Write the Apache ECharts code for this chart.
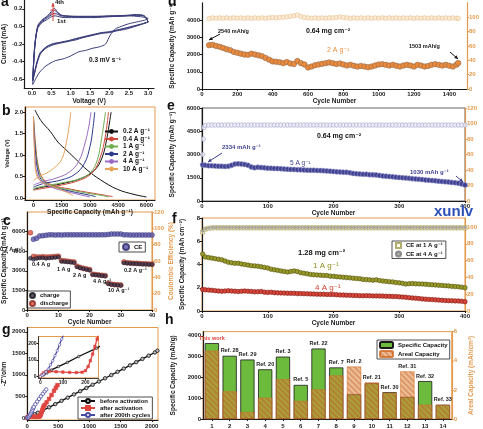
<!DOCTYPE html>
<html><head><meta charset="utf-8">
<script src="https://cdn.jsdelivr.net/npm/echarts@6/dist/echarts.min.js"></script>
<style>html,body{margin:0;padding:0;background:#fff}#c{width:483px;height:429px}</style>
</head><body><div id="c"></div>
<script>
// ---------- DATA ----------
// (a) CV cycles [V, mA]
const cv1 = [[3.0,0.09],[2.9,0.07],[2.7,0.05],[2.5,0.03],[2.3,0.0],[2.15,-0.03],[2.02,-0.1],[1.9,-0.2],[1.76,-0.23],[1.55,-0.25],[1.41,-0.27],[1.2,-0.29],[0.98,-0.34],[0.8,-0.37],[0.6,-0.39],[0.39,-0.44],[0.28,-0.48],[0.18,-0.53],[0.09,-0.6],[0.02,-0.66],[0.03,-0.5],[0.07,-0.22],[0.14,-0.03],[0.25,0.04],[0.4,0.08],[0.5,0.11],[0.6,0.12],[0.7,0.11],[0.85,0.1],[1.2,0.1],[1.6,0.1],[2.0,0.11],[2.5,0.12],[2.8,0.11],[2.95,0.1],[3.0,0.09]];
const cv2 = [[3.0,0.05],[2.8,0.02],[2.44,-0.03],[2.2,-0.05],[2.0,-0.07],[1.8,-0.08],[1.59,-0.1],[1.3,-0.13],[1.16,-0.15],[0.95,-0.17],[0.73,-0.19],[0.55,-0.21],[0.39,-0.24],[0.28,-0.28],[0.21,-0.32],[0.13,-0.42],[0.07,-0.53],[0.02,-0.62],[0.04,-0.45],[0.08,-0.2],[0.15,-0.01],[0.25,0.05],[0.4,0.1],[0.5,0.13],[0.58,0.15],[0.65,0.14],[0.75,0.12],[0.9,0.115],[1.2,0.11],[1.6,0.11],[2.0,0.115],[2.4,0.12],[2.7,0.125],[2.9,0.115],[3.0,0.05]];
const cv3 = [[3.0,0.05],[2.8,0.02],[2.44,-0.02],[2.2,-0.045],[2.0,-0.065],[1.8,-0.075],[1.59,-0.095],[1.3,-0.125],[1.16,-0.14],[0.95,-0.165],[0.73,-0.185],[0.55,-0.2],[0.39,-0.23],[0.28,-0.27],[0.21,-0.31],[0.13,-0.41],[0.07,-0.52],[0.02,-0.61],[0.04,-0.44],[0.08,-0.19],[0.15,0.0],[0.25,0.06],[0.4,0.11],[0.5,0.15],[0.58,0.18],[0.65,0.16],[0.75,0.125],[0.9,0.115],[1.2,0.11],[1.6,0.11],[2.0,0.115],[2.4,0.12],[2.7,0.13],[2.9,0.12],[3.0,0.05]];
const cv4 = [[3.0,0.05],[2.8,0.025],[2.44,-0.015],[2.2,-0.04],[2.0,-0.06],[1.8,-0.07],[1.59,-0.09],[1.3,-0.12],[1.16,-0.135],[0.95,-0.16],[0.73,-0.18],[0.55,-0.195],[0.39,-0.225],[0.28,-0.265],[0.21,-0.3],[0.13,-0.4],[0.07,-0.51],[0.02,-0.6],[0.04,-0.43],[0.08,-0.18],[0.15,0.01],[0.25,0.07],[0.4,0.12],[0.5,0.17],[0.58,0.205],[0.65,0.17],[0.75,0.13],[0.9,0.12],[1.2,0.115],[1.6,0.115],[2.0,0.12],[2.4,0.125],[2.7,0.135],[2.9,0.12],[3.0,0.05]];

// (b) GCD curves [mAh/g, V]
const bRates = ['0.2 A g⁻¹','0.4 A g⁻¹','1 A g⁻¹','2 A g⁻¹','4 A g⁻¹','10 A g⁻¹'];
const bDis02 = [[80,2.05],[400,1.8],[890,1.55],[1300,1.3],[1780,1.1],[2300,0.88],[2850,0.65],[3560,0.42],[4450,0.2],[5340,0.08],[6000,0.02]];
const bChg02 = [[0,0.2],[500,0.25],[1500,0.33],[2500,0.45],[3250,0.65],[3650,0.95],[3900,1.4],[4050,1.8],[4120,2.0]];
const bDis04 = [[0,1.9],[100,1.3],[250,0.75],[500,0.45],[1000,0.3],[2000,0.2],[3000,0.12],[3800,0.06],[4200,0.03]];
const bChg04 = [[0,0.18],[500,0.22],[1500,0.3],[2500,0.42],[3150,0.6],[3550,0.95],[3800,1.4],[3930,1.8],[3980,2.0]];
const bDis1 = [[0,1.85],[100,1.2],[250,0.7],[500,0.42],[1000,0.28],[2000,0.18],[3000,0.1],[3700,0.05],[4000,0.02]];
const bChg1 = [[0,0.22],[500,0.27],[1500,0.35],[2500,0.45],[3050,0.6],[3400,0.9],[3620,1.4],[3760,1.8],[3820,2.0]];
const bDis2 = [[0,1.8],[100,1.1],[250,0.6],[500,0.38],[1000,0.26],[2000,0.15],[2900,0.07],[3300,0.03]];
const bChg2 = [[0,0.25],[500,0.33],[1500,0.42],[2200,0.55],[2700,0.8],[3000,1.2],[3150,1.6],[3250,2.0]];
const bDis4 = [[0,1.75],[80,1.0],[200,0.55],[500,0.35],[1000,0.24],[2000,0.12],[2700,0.05],[3000,0.02]];
const bChg4 = [[0,0.3],[500,0.38],[1200,0.46],[1900,0.6],[2400,0.85],[2750,1.3],[2950,1.7],[3050,2.0]];
const bDis10 = [[0,1.9],[60,1.0],[150,0.55],[400,0.38],[800,0.3],[1400,0.2],[1900,0.1],[2100,0.05]];
const bChg10 = [[0,0.4],[300,0.5],[700,0.58],[1100,0.7],[1500,0.9],[1750,1.3],[1900,1.7],[1980,2.0]];

// (c) rate test
const cCycles = [1,2,3,4,5,6,7,8,9,10,11,12,13,14,15,16,17,18,19,20,21,22,23,24,25,26,27,28,29,30,31,32,33,34,35,36,37,38,39,40];
const cCharge = [3960,3880,3950,3980,4000,3950,3980,4000,4020,4050,3720,3700,3680,3650,3620,3300,3220,3150,3100,3050,2700,2680,2650,2620,2600,2000,1950,1920,1900,1880,3600,3580,3560,3550,3540,3520,3510,3500,3490,3480];
const cDischarge = [5920,4100,4050,4050,4080,4050,4060,4080,4100,4120,3780,3760,3730,3700,3680,3350,3260,3190,3140,3090,2740,2710,2680,2650,2630,2050,1980,1950,1930,1910,3680,3620,3600,3580,3570,3560,3540,3530,3520,3510];
const cCE = [null,86.6,87.8,90.7,91,91.5,92,92,91.8,92,91.8,92,92,92,92,92,92,92,92,92,92,92,92,92,92.2,92.5,93,93,93,93,92,92,91.8,91.8,91.8,91.8,91.8,91.8,91.8,91.8];

// (g) Nyquist [Z', -Z'']
const gBefore = [[0,0],[15,10],[30,22],[50,40],[80,60],[120,85],[170,120],[250,170],[350,245],[450,320],[550,395],[650,470],[750,545],[850,620],[950,695],[1050,770],[1150,845],[1250,920],[1350,995],[1450,1070],[1550,1145],[1650,1220],[1750,1295],[1850,1370],[1950,1445],[2050,1520],[2090,1560]];
const gAfter = [[0,0],[8,12],[15,22],[25,30],[40,31],[70,29],[100,27],[130,25],[160,24],[185,26],[200,35],[212,60],[222,95],[232,135],[242,180],[252,225],[262,265],[280,300],[310,360],[350,440],[390,530],[430,630],[460,700],[485,760]];
const gAfter200 = [[0,0],[8,8],[15,15],[25,28],[35,45],[45,70],[55,95],[65,125],[75,155],[85,190],[95,225],[105,255],[130,315],[160,380],[190,440],[220,500],[250,560],[280,615],[305,660]];

// (d) 2 A/g long cycling
const dCycles = [40,60,80,100,120,140,160,180,200,220,240,260,280,300,320,340,360,380,400,420,440,460,480,500,520,540,560,580,600,620,640,660,680,700,720,740,760,780,800,820,840,860,880,900,920,940,960,980,1000,1020,1040,1060,1080,1100,1120,1140,1160,1180,1200,1220,1240,1260,1280,1300,1320,1340,1360,1380,1400,1420,1440,1450];
const dCap = [2540,2560,2500,2450,2380,2300,2250,2150,2100,2050,2000,1980,2050,2000,1950,1900,1800,1700,1600,1580,1550,1500,1560,1480,1450,1620,1500,1420,1250,1300,1380,1420,1460,1500,1540,1500,1450,1480,1420,1360,1400,1350,1300,1340,1300,1260,1300,1360,1420,1440,1400,1360,1400,1350,1300,1360,1400,1360,1300,1400,1360,1300,1340,1400,1440,1400,1360,1400,1350,1300,1400,1503];
const dCE = [98,99,98.5,99,98.5,99,98.5,99,98.5,99,98.5,99,98.5,99,98.5,99,98.5,99,99.5,99,99.5,100,100.5,101,102,103,101,99.5,99,98.5,99,98.5,99,98.5,99,99,99.5,100.5,99.5,99,98.5,99,98.5,99,98.5,99,98.5,99,98.5,99,98.5,99,98.5,99,98.5,99,98.5,99,98.5,99,98.5,99,98.5,99,98.5,99,98.5,99,98.5,99,98.5,98.5];

// (e)/(f) cycles every 5
const cycles5 = [1,5,10,15,20,25,30,35,40,45,50,55,60,65,70,75,80,85,90,95,100,105,110,115,120,125,130,135,140,145,150,155,160,165,170,175,180,185,190,195,200,205,210,215,220,225,230,235,240,245,250,255,260,265,270,275,280,285,290,295,300,305,310,315,320,325,330,335,340,345,350,355,360,365,370,375,380,385,390,395,400];
const eCap = [2334,2300,2280,2270,2260,2250,2240,2230,2240,2300,
2380,2400,2380,2360,2300,2200,2150,2180,2160,2140,
2120,2110,2100,2090,2080,2060,2050,2040,2030,2020,
2010,2000,1990,1980,1980,1970,1960,1950,1940,1920,
1900,1880,1870,1860,1850,1820,1780,1760,1740,1720,
1720,1700,1690,1680,1650,1620,1600,1580,1560,1540,
1520,1500,1480,1460,1440,1420,1400,1380,1360,1340,
1320,1300,1280,1260,1240,1220,1200,1180,1150,1100,1030];
const eCE = [60,97.5,98,98,98,98,98,98,98,98,
98,98,98,98,98,98,98,98,98,98,
98,98,98,98,98,98,98,98,98,98,
98,98,98,98,98,98,98,98,98,98,
98,98,98,98,98,98,98,98,98,98,
98,98,98,98,98,98,98,98,98,98,
98,98,98,98,98,98,98,98,98,98,
98,98,98,98,98,98,98,98,98,98,98];
const eCEEarlyCycles = [2,3];
const eCEEarly = [80,95];
const fCap1 = [4.9,4.65,4.6,4.55,4.5,4.45,4.4,4.3,4.2,4.15,
4.1,4.1,4.05,4.0,3.95,3.9,3.88,3.85,3.8,3.75,
3.7,3.6,3.55,3.5,3.45,3.4,3.35,3.4,3.45,3.4,
3.3,3.25,3.2,3.15,3.12,3.1,3.08,3.06,3.05,3.0,
2.98,2.95,2.93,2.9,2.88,2.85,2.82,2.8,2.78,2.72,
2.7,2.68,2.65,2.68,2.62,2.58,2.55,2.52,2.5,2.45,
2.42,2.38,2.32,2.35,2.36,2.34,2.33,2.32,2.3,2.28,
2.26,2.24,2.22,2.2,2.18,2.16,2.12,2.1,2.08,2.05,2.0];
const fCap4 = [1.86,1.82,1.8,1.78,1.75,1.72,1.7,1.72,1.74,1.72,
1.7,1.68,1.7,1.72,1.7,1.68,1.65,1.66,1.68,1.62,
1.6,1.62,1.58,1.56,1.55,1.54,1.53,1.52,1.52,1.5,
1.5,1.49,1.48,1.47,1.46,1.45,1.44,1.44,1.43,1.42,
1.42,1.4,1.38,1.37,1.36,1.35,1.34,1.33,1.32,1.31,
1.32,1.31,1.3,1.3,1.29,1.28,1.27,1.26,1.25,1.24,
1.22,1.2,1.18,1.15,1.12,1.1,1.07,1.04,1.02,1.0,
0.98,0.96,0.94,0.92,0.9,0.89,0.88,0.87,0.86,0.84,0.8];
const fCE1 = [94,97.5,98.5,99,99,99,99,99,99,99,
99,99,99,99,99,99,99,99,99,99,
99,99,99,99,99,99,99,99,99,99,
99,99,99,99,99,99,99,99,99,99,
99,99,99,99,99,99,99,99,99,99,
99,99,99,99,99,99,99,99,99,99,
99,99,99,99,99,99,99,99,99,99,
99,99,99,99,99,99,99,99,99,99,99];
const fCE4 = [95,98,98.8,99.3,99.3,99.3,99.3,99.3,99.3,99.3,
99.3,99.3,99.3,99.3,99.3,99.3,99.3,99.3,99.3,99.3,
99.3,99.3,99.3,99.3,99.3,99.3,99.3,99.3,99.3,99.3,
99.3,99.3,99.3,99.3,99.3,99.3,99.3,99.3,99.3,99.3,
99.3,99.3,99.3,99.3,99.3,99.3,99.3,99.3,99.3,99.3,
99.3,99.3,99.3,99.3,99.3,99.3,99.3,99.3,99.3,99.3,
99.3,99.3,99.3,99.3,99.3,99.3,99.3,99.3,99.3,99.3,
99.3,99.3,99.3,99.3,99.3,99.3,99.3,99.3,99.3,99.3,99.3];

// (h) comparison
const hCats = ['1','2','3','4','5','6','7','8','9','10','11','12','13','14'];
const hRefs = ['This work','Ref. 28','Ref. 29','Ref. 20','Ref. 3','Ref. 5','Ref. 22','Ref. 7','Ref. 2','Ref. 21','Ref. 30','Ref. 31','Ref. 32','Ref. 33'];
const hSpecific = [3650,3040,2860,2390,3000,1640,3390,2480,1190,1720,1290,1065,1825,685];
const hAreal = [4.69,1.9,0.48,1.46,2.73,1.24,2.03,2.99,3.6,2.51,1.8,3.27,0.98,0.97];

// ---------- STYLE / BUILD ----------
const FONT = 'Liberation Sans, Arial, DejaVu Sans, sans-serif';
const OR = '#e39a4f';
function merge(a,b){const o=Object.assign({},a);for(const k in b){const v=b[k];if(v&&typeof v==='object'&&!Array.isArray(v)&&a&&a[k]&&typeof a[k]==='object'&&!Array.isArray(a[k]))o[k]=merge(a[k],v);else o[k]=v;}return o;}
const plain = v => String(v);
const baseAx = {
  type:'value',
  axisLine:{show:true,onZero:false,lineStyle:{color:'#1a1a1a',width:1.2}},
  axisTick:{show:true,length:2,lineStyle:{color:'#1a1a1a',width:1}},
  axisLabel:{fontSize:6,fontWeight:'bold',color:'#1a1a1a',margin:2,fontFamily:FONT,formatter:plain},
  splitLine:{show:false},
  nameLocation:'middle',
  nameTextStyle:{fontSize:6.5,fontWeight:'bold',color:'#1a1a1a',fontFamily:FONT}
};
const ax = o => merge(baseAx,o);
const rax = o => merge(merge(baseAx,{position:'right',axisLine:{lineStyle:{color:OR}},axisTick:{lineStyle:{color:OR}},axisLabel:{color:OR},nameTextStyle:{color:OR}}),o);
const f1 = v => v.toFixed(1);

const grids = [
  {left:24,top:-3,width:130,height:91},
  {left:25,top:107,width:130,height:93,show:true,borderColor:OR,borderWidth:1},
  {left:22,top:212,width:130,height:98,show:true,borderColor:OR,borderWidth:1},
  {left:22,top:327.5,width:136,height:98,show:true,borderColor:OR,borderWidth:1},
  {left:38.5,top:336.5,width:60,height:41.4,show:true,borderColor:OR,borderWidth:1,backgroundColor:'#fff'},
  {left:202,top:-3.5,width:265,height:92.5},
  {left:202,top:108,width:263,height:93,show:true,borderColor:'#666',borderWidth:1},
  {left:202,top:218,width:263,height:93,show:true,borderColor:OR,borderWidth:1},
  {left:203,top:331.65,width:264,height:91.35,show:true,borderColor:OR,borderWidth:1}
];

const xAxes = [
  ax({gridIndex:0,min:-0.2,max:3.15,axisLabel:{customValues:[0,0.5,1,1.5,2,2.5,3],formatter:f1},axisTick:{customValues:[0,0.5,1,1.5,2,2.5,3]},name:'Voltage (V)',nameGap:10}),
  ax({gridIndex:1,min:-450,max:6450,axisLabel:{customValues:[0,1500,3000,4500,6000]},axisTick:{customValues:[0,1500,3000,4500,6000]},name:'Specific Capacity (mAh g⁻¹)',nameGap:9}),
  ax({gridIndex:2,min:0,max:40,interval:10,name:'Cycle Number',nameGap:9}),
  ax({gridIndex:3,min:0,max:2100,interval:500,axisLabel:{showMaxLabel:false,margin:3}}),
  ax({gridIndex:4,min:-8,max:258,axisLabel:{fontSize:5,customValues:[0,100,200]},axisTick:{customValues:[0,100,200]},axisLine:{lineStyle:{width:0.8}}}),
  ax({gridIndex:5,min:0,max:1500,interval:200,axisLabel:{showMaxLabel:false},name:'Cycle Number',nameGap:8}),
  ax({gridIndex:6,min:0,max:400,interval:100,name:'Cycle Number',nameGap:8}),
  ax({gridIndex:7,min:0,max:400,interval:100,name:'Cycle Number',nameGap:8}),
  ax({gridIndex:8,type:'category',data:hCats,axisTick:{alignWithLabel:true},axisLabel:{interval:0,margin:4}})
];
const yAxes = [
  ax({gridIndex:0,min:-0.7,max:0.3,axisLabel:{customValues:[-0.6,-0.4,-0.2,0,0.2],formatter:f1},axisTick:{customValues:[-0.6,-0.4,-0.2,0,0.2]},name:'Current (mA)',nameGap:15,nameRotate:90}),
  ax({gridIndex:1,min:-0.05,max:2.12,axisLabel:{customValues:[0,0.5,1,1.5,2],formatter:f1},axisTick:{customValues:[0,0.5,1,1.5,2]},name:'Voltage (V)',nameGap:13,nameRotate:90,nameTextStyle:{fontSize:5.5}}),
  ax({gridIndex:2,min:0,max:7500,interval:1500,axisLabel:{showMaxLabel:false},name:'Specific Capacity (mAh g⁻¹)',nameGap:15,nameRotate:90}),
  rax({gridIndex:2,min:0,max:120,interval:20,name:'Coulombic Efficiency (%)',nameGap:12,nameRotate:90}),
  ax({gridIndex:3,min:-50,max:2100,axisLabel:{customValues:[0,500,1000,1500,2000]},axisTick:{customValues:[0,500,1000,1500,2000]},name:"-Z''/ohm",nameGap:15,nameRotate:90}),
  ax({gridIndex:4,min:-8,max:240,axisLabel:{fontSize:5,customValues:[0,100,200]},axisTick:{customValues:[0,100,200]},axisLine:{lineStyle:{width:0.8}}}),
  ax({gridIndex:5,min:0,max:5000,interval:1000,axisLabel:{showMaxLabel:false},name:'Specific Capacity (mAh g⁻¹)',nameGap:16,nameRotate:90}),
  rax({gridIndex:5,min:0,max:120,interval:20,axisLabel:{showMaxLabel:false}}),
  ax({gridIndex:6,min:0,max:6000,interval:1500,name:'Specific Capacity (mAh g⁻¹)',nameGap:16,nameRotate:90}),
  rax({gridIndex:6,min:0,max:120,interval:20}),
  ax({gridIndex:7,min:0,max:8,interval:2,name:'Specific Capacity (mAh cm⁻²)',nameGap:10,nameRotate:90}),
  rax({gridIndex:7,min:0,max:110.7,interval:20,axisLabel:{showMaxLabel:false}}),
  ax({gridIndex:8,min:0,max:4200,interval:1000,axisLabel:{showMaxLabel:false},name:'Specific Capacity (mAh/g)',nameGap:16,nameRotate:90}),
  rax({gridIndex:8,min:0,max:6,interval:2,name:'Areal Capacity (mAh/cm²)',nameGap:8,nameRotate:90})
];

const series = [];
const cvColor = '#3b3d7a';
[cv1,cv2,cv3,cv4].forEach(d=>series.push({type:'line',xAxisIndex:0,yAxisIndex:0,data:d,showSymbol:false,smooth:0.25,lineStyle:{color:cvColor,width:1},silent:true}));

const bCols = ['#111111','#cf4a3c','#6fae4f','#2e3a8c','#9b6cc2','#e7a55a'];
const bSets = [[bDis02,bChg02],[bDis04,bChg04],[bDis1,bChg1],[bDis2,bChg2],[bDis4,bChg4],[bDis10,bChg10]];
bSets.forEach((pair,i)=>pair.forEach(d=>series.push({type:'line',name:bRates[i],xAxisIndex:1,yAxisIndex:1,data:d,symbol:'none',smooth:0.4,color:bCols[i],lineStyle:{color:bCols[i],width:1}})));

series.push({type:'scatter',name:'discharge',xAxisIndex:2,yAxisIndex:2,data:cCycles.map((c,i)=>[c,cDischarge[i]]),symbolSize:5,itemStyle:{color:'#d9503e',borderColor:'#8a2418',borderWidth:0.5}});
series.push({type:'scatter',name:'charge',xAxisIndex:2,yAxisIndex:2,data:cCycles.map((c,i)=>[c,cCharge[i]]),symbolSize:4,itemStyle:{color:'#3a3550',borderColor:'#111',borderWidth:0.5}});
series.push({type:'scatter',name:'CE',xAxisIndex:2,yAxisIndex:3,data:cCycles.map((c,i)=>[c,cCE[i]]).filter(p=>p[1]!==null),symbolSize:5,itemStyle:{color:'#5b58aa',borderColor:'#2c2a6a',borderWidth:0.5}});

const gStyles = [
  {name:'before activation',data:gBefore,color:'#111111',symbol:'circle',fill:'#bbbbbb'},
  {name:'after activation',data:gAfter,color:'#e0453f',symbol:'rect',fill:'#e0453f'},
  {name:'after 200th cycles',data:gAfter200,color:'#4b4aa2',symbol:'circle',fill:'#ffffff'}
];
gStyles.forEach(s=>{
  series.push({type:'line',name:s.name,xAxisIndex:3,yAxisIndex:4,data:s.data,symbol:s.symbol,symbolSize:3.5,showAllSymbol:true,color:s.color,lineStyle:{color:s.color,width:1.3},itemStyle:{color:s.fill,borderColor:s.color,borderWidth:0.8}});
  series.push({type:'line',name:s.name,xAxisIndex:4,yAxisIndex:5,data:s.data,symbol:s.symbol,symbolSize:2.5,showAllSymbol:true,color:s.color,z:5,lineStyle:{color:s.color,width:1.3},itemStyle:{color:s.fill,borderColor:s.color,borderWidth:0.6}});
});

series.push({type:'scatter',name:'dCE',xAxisIndex:5,yAxisIndex:7,data:dCycles.map((c,i)=>[c,dCE[i]]),symbolSize:4.5,itemStyle:{color:'#fbe6cc',borderColor:'#e8c393',borderWidth:0.8}});
series.push({type:'line',name:'dCap',xAxisIndex:5,yAxisIndex:6,data:dCycles.map((c,i)=>[c,dCap[i]]),symbol:'circle',symbolSize:5.5,showAllSymbol:true,lineStyle:{color:'#d8702a',width:1},itemStyle:{color:'#ec8a3c',borderColor:'#8d6a4f',borderWidth:0.6}});

const eCEData = [[cycles5[0],eCE[0]]].concat(eCEEarlyCycles.map((c,i)=>[c,eCEEarly[i]]), cycles5.slice(1).map((c,i)=>[c,eCE[i+1]]));
series.push({type:'scatter',name:'eCE',xAxisIndex:6,yAxisIndex:9,data:eCEData,symbolSize:4.5,itemStyle:{color:'#ececf6',borderColor:'#a9a9cf',borderWidth:0.8}});
series.push({type:'line',name:'eCap',xAxisIndex:6,yAxisIndex:8,data:cycles5.map((c,i)=>[c,eCap[i]]),symbol:'circle',symbolSize:5,showAllSymbol:true,lineStyle:{color:'#3e3f8f',width:1},itemStyle:{color:'#404190',borderColor:'#9a9ad0',borderWidth:0.6}});

series.push({type:'line',name:'f1',xAxisIndex:7,yAxisIndex:10,data:cycles5.map((c,i)=>[c,fCap1[i]]),symbol:'circle',symbolSize:4.5,showAllSymbol:true,lineStyle:{color:'#7d7d1a',width:1},itemStyle:{color:'#9a9a2a',borderColor:'#4f4f0c',borderWidth:0.6}});
series.push({type:'line',name:'f4',xAxisIndex:7,yAxisIndex:10,data:cycles5.map((c,i)=>[c,fCap4[i]]),symbol:'circle',symbolSize:4.5,showAllSymbol:true,lineStyle:{color:'#c0392b',width:1},itemStyle:{color:'#d8463a',borderColor:'#7a1a12',borderWidth:0.6}});
series.push({type:'scatter',name:'CE at 1 A g⁻¹',xAxisIndex:7,yAxisIndex:11,data:cycles5.map((c,i)=>[c,fCE1[i]]),symbol:'rect',symbolSize:4,itemStyle:{color:'#fffbe8',borderColor:'#a39a4a',borderWidth:0.8}});
series.push({type:'scatter',name:'CE at 4 A g⁻¹',xAxisIndex:7,yAxisIndex:11,data:cycles5.map((c,i)=>[c,fCE4[i]]),symbol:'circle',symbolSize:2.5,itemStyle:{color:'#9a9a9a',borderColor:'#777',borderWidth:0.4}});

const labStyle = i => ({show:true,position:'top',distance:2,formatter:hRefs[i],fontSize:5.5,fontWeight:'bold',fontFamily:FONT,color:i===0?'#e0453f':'#222'});
const hSpecData = hSpecific.map((v,i)=>({value:v,label:(v/4200>=hAreal[i]/6)?labStyle(i):{show:false}}));
const hArealData = hAreal.map((v,i)=>({value:v,label:(hSpecific[i]/4200<v/6)?labStyle(i):{show:false}}));
series.push({type:'bar',name:'Specific Capacity',xAxisIndex:8,yAxisIndex:12,data:hSpecData,barWidth:'80%',itemStyle:{color:'#6dbb3d',borderColor:'#1a1a1a',borderWidth:0.8}});
series.push({type:'bar',name:'Areal Capacity',xAxisIndex:8,yAxisIndex:13,data:hArealData,barWidth:'80%',barGap:'-100%',z:3,itemStyle:{color:'rgba(222,135,60,0.55)',borderColor:'rgba(210,110,40,0.6)',borderWidth:0.5,decal:{symbol:'rect',symbolSize:1,dashArrayX:[1,0],dashArrayY:[1.5,2],rotation:Math.PI/4,color:'rgba(190,80,30,0.35)'}}});

const legText = {fontSize:6,fontWeight:'bold',fontFamily:FONT,color:'#111'};
const legends = [
  {data:bRates,left:104,top:128,orient:'vertical',itemGap:0.5,itemWidth:13,itemHeight:6,textStyle:merge(legText,{fontSize:6.5}),selectedMode:false,padding:0},
  {data:['CE'],left:119,top:242,itemWidth:6,itemHeight:6,textStyle:legText,selectedMode:false,borderColor:'#222',borderWidth:0.8,padding:[1,3]},
  {data:['charge','discharge'],left:27,top:291,orient:'vertical',itemGap:1,itemWidth:5,itemHeight:5,textStyle:legText,selectedMode:false,borderColor:'#222',borderWidth:0.8,padding:[1,2]},
  {data:['before activation','after activation','after 200th cycles'],left:78,top:397,orient:'vertical',itemGap:1,itemWidth:14,itemHeight:5,textStyle:legText,selectedMode:false,borderColor:'#222',borderWidth:0.8,padding:[1,2],backgroundColor:'#fff'},
  {data:['CE at 1 A g⁻¹','CE at 4 A g⁻¹'],left:392,top:241,orient:'vertical',itemGap:1.5,itemWidth:5,itemHeight:5,textStyle:legText,selectedMode:false,borderColor:'#222',borderWidth:0.8,padding:[1,3]},
  {data:['Specific Capacity','Areal Capacity'],left:377,top:340,orient:'vertical',itemGap:1,itemWidth:13,itemHeight:6,textStyle:legText,selectedMode:false,borderColor:'#222',borderWidth:0.8,padding:[1,2]}
];

function txt(x,y,s,size,color,weight){return {type:'text',x:x,y:y,z:50,style:{text:s,font:(weight||'bold')+' '+size+'px '+FONT,fill:color||'#111'}};}
function arrow(x1,y1,x2,y2,color){const a=Math.atan2(y2-y1,x2-x1),h=3.5,w=1.8;
  const p=[[x2,y2],[x2-h*Math.cos(a)+w*Math.sin(a),y2-h*Math.sin(a)-w*Math.cos(a)],[x2-h*Math.cos(a)-w*Math.sin(a),y2-h*Math.sin(a)+w*Math.cos(a)]];
  return [{type:'line',z:50,shape:{x1:x1,y1:y1,x2:x2,y2:y2},style:{stroke:color||'#111',lineWidth:1}},{type:'polygon',z:50,shape:{points:p},style:{fill:color||'#111'}}];}
const graphics = [
  txt(1,-5,'a',14), txt(2,104,'b',14), txt(3,214,'c',14), txt(2,323,'g',14),
  txt(168,-5,'d',14), txt(167,99,'e',14), txt(172,212,'f',14), txt(165,313,'h',14),
  txt(55,-1,'4th',6), txt(57,18,'1st',6), txt(89,57,'0.3 mV s⁻¹',6.5),
  ...arrow(53,21,53,3,'#d94040'),
  {type:'line',z:50,shape:{x1:50,y1:14,x2:56,y2:14},style:{stroke:'#d94040',lineWidth:0.8}},
  {type:'line',z:50,shape:{x1:50,y1:10,x2:56,y2:10},style:{stroke:'#d94040',lineWidth:0.8}},
  txt(0,246,'0.2 A g⁻¹',5.5), txt(32,261,'0.4 A g',5.5), txt(57,266,'1 A g',5.5), txt(73,272,'2 A g',5.5),
  txt(93,278,'4 A g⁻¹',5.5), txt(108,287,'10 A g⁻¹',5.5), txt(124,267,'0.2 A g⁻¹',5.5),
  txt(218,28,'2540 mAh/g',5.5), ...arrow(220,34,209,40),
  txt(306,28,'0.64 mg cm⁻²',7), txt(327,47,'2 A g⁻¹',7,'#e8903a','normal'),
  txt(409,43,'1503 mAh/g',5.5), ...arrow(450,52,458,59),
  txt(222,144,'2334 mAh g⁻¹',6,'#3e3f8f'), ...arrow(222,153,208,162,'#3e3f8f'),
  txt(317,133,'0.64 mg cm⁻²',7), txt(290,160,'5 A g⁻¹',6.5,'#3e3f8f','normal'),
  txt(410,169,'1030 mAh g⁻¹',6,'#3e3f8f'), ...arrow(456,176,463,182,'#3e3f8f'),
  txt(298,249,'1.28 mg cm⁻²',7.5), txt(313,262,'1 A g⁻¹',8,'#8a8a1a','normal'), txt(315,284,'4 A g⁻¹',8,'#d23c2c','normal'),
  txt(434,204,'xunlv',15,'#2d50b8')
];

const chart = echarts.init(document.getElementById('c'),null,{renderer:'canvas'});
chart.setOption({
  animation:false,
  backgroundColor:'#fff',
  textStyle:{fontFamily:FONT},
  grid:grids, xAxis:xAxes, yAxis:yAxes, series:series, legend:legends, graphic:graphics
});
</script></body></html>
